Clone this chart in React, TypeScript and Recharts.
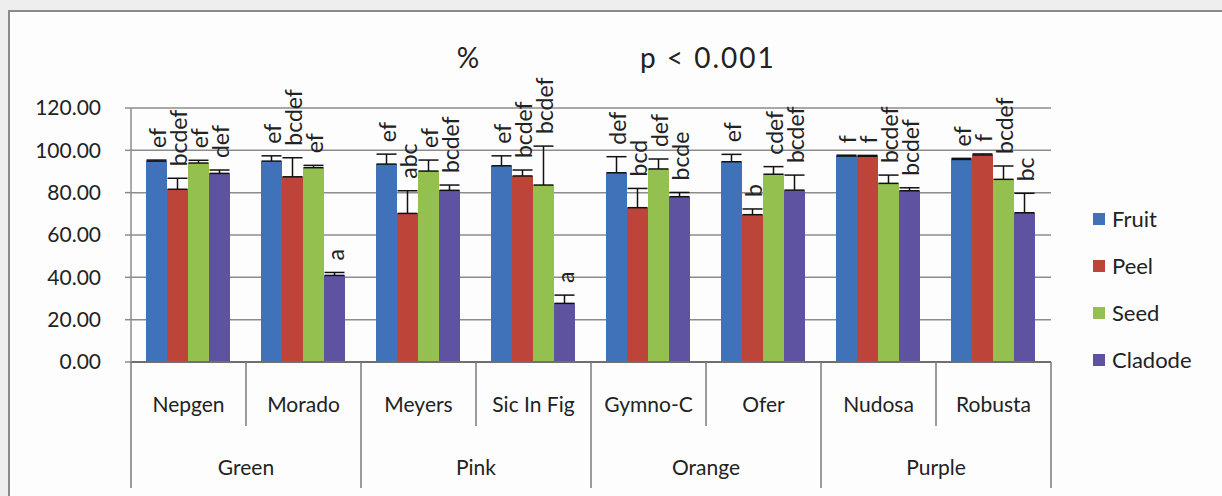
import React from 'react';
import {
  BarChart,
  Bar,
  XAxis,
  YAxis,
  CartesianGrid,
  Legend,
  ErrorBar,
  LabelList,
} from 'recharts';

const varieties = ['Nepgen', 'Morado', 'Meyers', 'Sic In Fig', 'Gymno-C', 'Ofer', 'Nudosa', 'Robusta'];
const groups = ['Green', 'Pink', 'Orange', 'Purple'];

const fruit = [94.9, 94.9, 93.5, 92.7, 89.4, 94.6, 97.3, 95.7];
const fruitErr = [0.5, 2.5, 4.7, 4.7, 7.6, 3.5, 0.4, 0.5];
const fruitLetters = ['ef', 'ef', 'ef', 'ef', 'def', 'ef', 'f', 'ef'];

const peel = [81.6, 87.5, 70.2, 87.9, 72.9, 69.6, 97.2, 97.8];
const peelErr = [5.2, 9.0, 10.7, 2.8, 9.1, 2.7, 0.4, 0.5];
const peelLetters = ['bcdef', 'bcdef', 'abc', 'bcdef', 'bcd', 'b', 'f', 'f'];

const seed = [94.0, 91.8, 90.2, 83.6, 91.2, 88.7, 84.4, 86.3];
const seedErr = [1.3, 1.1, 5.2, 18.4, 4.7, 3.6, 3.9, 6.3];
const seedLetters = ['ef', 'ef', 'ef', 'bcdef', 'def', 'cdef', 'bcdef', 'bcdef'];

const cladode = [89.1, 40.9, 81.1, 27.7, 78.1, 81.2, 80.9, 70.5];
const cladodeErr = [1.6, 1.4, 2.5, 3.9, 2.0, 7.1, 1.4, 9.2];
const cladodeLetters = ['def', 'a', 'bcdef', 'a', 'bcde', 'bcdef', 'bcdef', 'bc'];

const yTicks = [0, 20, 40, 60, 80, 100, 120];

const series = [
  {key: 'fruit', name: 'Fruit', color: '#3f72b9', values: fruit, errs: fruitErr, letters: fruitLetters},
  {key: 'peel', name: 'Peel', color: '#bd4438', values: peel, errs: peelErr, letters: peelLetters},
  {key: 'seed', name: 'Seed', color: '#93c04f', values: seed, errs: seedErr, letters: seedLetters},
  {key: 'cladode', name: 'Cladode', color: '#5d53a0', values: cladode, errs: cladodeErr, letters: cladodeLetters},
];

const data = varieties.map((name, i) => {
  const row: any = {name};
  series.forEach((s) => {
    row[s.key] = s.values[i];
    row[s.key + 'Err'] = [0, s.errs[i]];
  });
  return row;
});

const BAND = 920 / varieties.length;

const CategoryTick = (props: any) => {
  const {x, y, payload} = props;
  const i = payload.index;
  const left = x - BAND / 2;
  const right = x + BAND / 2;
  const lineColor = '#7a7a7a';
  return (
    <g>
      <line x1={left} y1={y} x2={left} y2={i % 2 === 0 ? y + 126 : y + 64} stroke={lineColor} strokeWidth={1.5} />
      {i === varieties.length - 1 && (
        <line x1={right} y1={y} x2={right} y2={y + 126} stroke={lineColor} strokeWidth={1.5} />
      )}
      <text x={x} y={y + 41} textAnchor='middle' dominantBaseline='central' fontSize={21} fill='#222'>
        {payload.value}
      </text>
      {i % 2 === 1 && (
        <text x={left} y={y + 104} textAnchor='middle' dominantBaseline='central' fontSize={21} fill='#222'>
          {groups[(i - 1) / 2]}
        </text>
      )}
    </g>
  );
};

const makeLabel = (values: number[], errs: number[], letters: string[]) => (props: any) => {
  const vb = props.viewBox || props;
  const {x, y, width, height} = vb;
  const idx = varieties.indexOf(props.value);
  if (idx < 0) return null;
  const scale = Math.abs(height) / values[idx];
  const top = Math.min(y, y + height) - errs[idx] * scale - 12;
  const cx = x + width / 2;
  return (
    <text
      transform={`translate(${cx},${top}) rotate(-90)`}
      textAnchor='start'
      dominantBaseline='central'
      fontSize={23}
      fill='#222'
    >
      {letters[idx]}
    </text>
  );
};

const LegendBox = () => (
  <div style={{height: 188, paddingLeft: 42}}>
    {series.map((s) => (
      <div key={s.key} style={{height: 47, display: 'flex', alignItems: 'center'}}>
        <span style={{width: 12, height: 12, background: s.color, marginRight: 7, display: 'inline-block'}} />
        <span style={{fontSize: 22, color: '#222'}}>{s.name}</span>
      </div>
    ))}
  </div>
);

export default function App() {
  return (
    <div style={{position: 'fixed', left: 0, top: 0, width: 1222, height: 496, overflow: 'hidden', background: '#eeeeee', fontFamily: 'Lato'}}>
      <div style={{position: 'absolute', left: 8, top: 10, width: 1400, height: 600, borderTop: '2px solid #8a8a8a', borderLeft: '2px solid #8a8a8a', background: '#fdfdfd'}} />
      <div style={{position: 'absolute', left: 468, top: 57, transform: 'translate(-50%,-50%)', fontSize: 28, color: '#222'}}>%</div>
      <div style={{position: 'absolute', left: 640, top: 57, transform: 'translateY(-50%)', fontSize: 28, color: '#222', letterSpacing: 2}}>p &lt; 0.001</div>
      <div style={{position: 'absolute', left: 0, top: 0}}>
        <BarChart
          width={1222}
          height={496}
          data={data}
          margin={{top: 108, right: 0, bottom: 0, left: 0}}
          barCategoryGap={15}
          barGap={0}
        >
          <CartesianGrid vertical={false} stroke='#8c8c8c' strokeWidth={1.5} />
          <XAxis
            dataKey='name'
            height={134}
            interval={0}
            tickLine={false}
            tickSize={0}
            tickMargin={0}
            axisLine={{stroke: '#6f6f6f', strokeWidth: 2}}
            tick={<CategoryTick />}
          />
          <YAxis
            width={131}
            domain={[0, 120]}
            ticks={yTicks}
            tickFormatter={(v: number) => v.toFixed(2)}
            tickSize={6}
            tickMargin={24}
            tickLine={{stroke: '#8c8c8c', strokeWidth: 1.5}}
            axisLine={{stroke: '#8c8c8c', strokeWidth: 1.5}}
            tick={{fontSize: 21, fill: '#222'}}
          />
          <Legend
            layout='vertical'
            align='right'
            verticalAlign='middle'
            width={171}
            wrapperStyle={{top: 195, right: 0}}
            content={<LegendBox />}
          />
          {series.map((s) => (
            <Bar key={s.key} dataKey={s.key} name={s.name} fill={s.color} isAnimationActive={false}>
              <ErrorBar dataKey={s.key + 'Err'} width={10} stroke='#111' strokeWidth={1.5} direction='y' />
              <LabelList dataKey='name' content={makeLabel(s.values, s.errs, s.letters)} />
            </Bar>
          ))}
        </BarChart>
      </div>
    </div>
  );
}
